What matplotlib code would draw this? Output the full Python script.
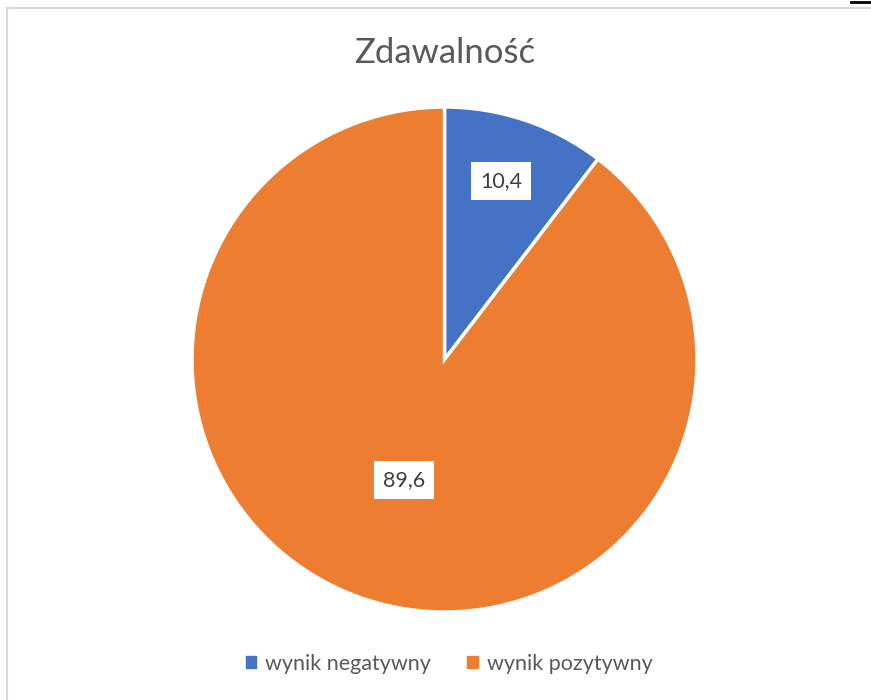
import matplotlib
matplotlib.use("Agg")
import matplotlib.pyplot as plt
from matplotlib.patches import Rectangle
from matplotlib.lines import Line2D

categories = ["wynik negatywny", "wynik pozytywny"]
values = [10.4, 89.6]
value_labels = ["10,4", "89,6"]
colors = ["#4472C4", "#ED7D31"]
title = "Zdawalność"

plt.rcParams['font.family'] = ['Lato', 'DejaVu Sans']

W, H = 871, 700
fig = plt.figure(figsize=(W / 100, H / 100), dpi=100)

# chart border
fig.add_artist(Line2D([6.5 / W, 1.0], [1 - 7.5 / H, 1 - 7.5 / H], color="#d9d9d9", lw=1.5))
fig.add_artist(Line2D([6.5 / W, 6.5 / W], [0, 1 - 7.5 / H], color="#d9d9d9", lw=1.5))
fig.add_artist(Line2D([851 / W, 1.0], [1 - 2 / H, 1 - 2 / H], color="black", lw=2))

cx, cy, r = 444.5, 359.5, 252.5
ax = fig.add_axes([(cx - r) / W, (H - cy - r) / H, 2 * r / W, 2 * r / H])
wedges, _ = ax.pie(values, colors=colors, startangle=90, counterclock=False,
                   wedgeprops=dict(edgecolor="white", linewidth=2.5))
ax.set_xlim(-1, 1)
ax.set_ylim(-1, 1)
ax.set_aspect("equal")
ax.axis("off")

# data labels
label_pos = [(501, 181), (404, 480)]
for (px, py), lab in zip(label_pos, value_labels):
    fig.text(px / W, 1 - py / H, lab, ha="center", va="center", fontsize=15.5,
             color="#404040",
             bbox=dict(boxstyle="square,pad=0.4", fc="white", ec="none"))

fig.text(445 / W, 1 - 53 / H, title, ha="center", va="center", fontsize=25, color="#595959")

handles = [Rectangle((0, 0), 1, 1, color=c) for c in colors]
fig.legend(handles, categories, loc="center", bbox_to_anchor=(449 / W, 1 - 664 / H),
           ncol=2, frameon=False, fontsize=15.5, handlelength=0.5, handleheight=0.5,
           handletextpad=0.4, columnspacing=1.7, labelcolor="#595959")

fig.savefig("out.png", dpi=100)
